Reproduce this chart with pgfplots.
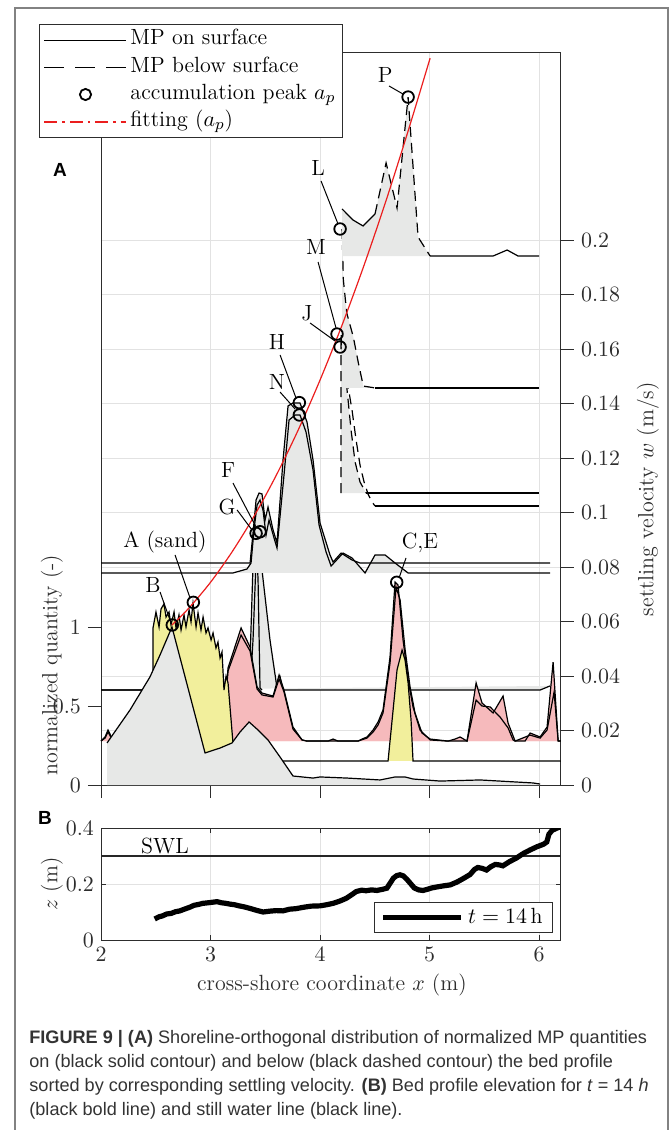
\documentclass[border=0pt]{standalone}
\usepackage{pgfplots}
\pgfplotsset{compat=1.18}
\usepackage{pgfplotstable}
\usepackage{fontspec}
\newfontfamily\capfont{Liberation Sans}

\definecolor{mpgray}{RGB}{231,232,231}
\definecolor{mpyellow}{RGB}{242,239,156}
\definecolor{mppink}{RGB}{246,186,188}
\definecolor{gridc}{RGB}{226,226,226}
\definecolor{axc}{RGB}{45,45,45}
\definecolor{framec}{RGB}{130,130,130}
\definecolor{fitred}{RGB}{235,30,30}

\pgfplotsset{
  mpl/.style={black, line width=0.6pt, forget plot},
  mpd/.style={black, line width=0.6pt, dash pattern=on 5pt off 3pt, forget plot},
  mpf/.style={draw=none, fill=#1, forget plot},
  panel/.style={scale only axis, width=230pt, anchor=south west,
    xmin=2, xmax=6.2,
    axis line style={axc, line width=0.5pt},
    tick style={axc, line width=0.5pt},
    tick label style={font=\fontsize{10.5}{12}\selectfont, color=axc},
    label style={font=\fontsize{11}{13}\selectfont, color=axc},
    grid style={gridc, line width=0.5pt}},
}

% panel A: x, stacked normalized quantity (baseline = settling velocity class)
\pgfplotstableread{
x y
2.000 0.601
3.352 0.601
3.388 1.392
3.416 1.595
3.434 1.297
3.452 0.614
3.470 0.601
}\curveG
\pgfplotstableread{
x y
2.000 0.601
3.361 0.601
3.388 0.918
3.416 1.424
3.452 1.601
3.470 1.361
3.543 0.918
3.607 0.614
3.635 0.684
3.662 0.601
6.009 0.601
6.100 0.627
}\curveF
\pgfplotstableread{
x y
2.000 1.405
3.361 1.405
3.388 1.595
3.416 1.804
3.443 1.848
3.470 1.842
3.498 1.677
3.525 1.759
3.571 1.614
3.607 1.532
3.662 2.057
3.708 2.399
3.753 2.418
3.817 2.418
3.881 2.297
3.936 2.057
4.000 1.658
4.091 1.456
4.119 1.411
4.192 1.468
4.292 1.424
4.365 1.405
6.100 1.405
}\curveH
\pgfplotstableread{
x y
2.000 1.342
3.205 1.342
3.333 1.367
3.370 1.405
3.397 1.614
3.425 1.772
3.452 1.804
3.479 1.741
3.507 1.582
3.534 1.677
3.580 1.563
3.607 1.500
3.671 1.962
3.717 2.310
3.772 2.342
3.817 2.342
3.872 2.234
3.936 1.994
3.991 1.646
4.055 1.475
4.101 1.386
4.210 1.468
4.292 1.437
4.411 1.342
4.502 1.456
4.594 1.456
4.685 1.405
4.804 1.342
6.100 1.342
}\curveN
\pgfplotstableread{
x y
2.000 0.278
2.037 0.304
2.064 0.348
2.100 0.297
2.174 0.278
3.105 0.278
3.160 0.741
3.279 0.994
3.361 0.873
3.425 0.620
3.470 0.582
3.571 0.563
3.626 0.696
3.671 0.601
3.753 0.367
3.836 0.285
3.881 0.278
4.073 0.278
4.119 0.291
4.164 0.278
4.347 0.278
4.384 0.291
4.429 0.304
4.484 0.348
4.530 0.399
4.575 0.475
4.639 0.810
4.685 1.285
4.712 1.266
4.758 0.918
4.804 0.665
4.849 0.494
4.913 0.348
5.005 0.285
5.169 0.278
5.233 0.291
5.279 0.304
5.342 0.278
5.425 0.646
5.479 0.519
5.580 0.456
5.671 0.563
5.717 0.392
5.781 0.278
5.872 0.278
5.918 0.329
6.009 0.304
6.073 0.367
6.128 0.778
6.174 0.278
6.200 0.278
}\curveC
\pgfplotstableread{
x y
2.000 0.278
2.037 0.297
2.064 0.335
2.100 0.291
2.174 0.278
3.105 0.278
3.160 0.722
3.279 0.949
3.361 0.848
3.425 0.608
3.470 0.570
3.571 0.557
3.626 0.671
3.671 0.589
3.753 0.354
3.836 0.285
3.881 0.278
4.347 0.278
4.429 0.297
4.484 0.335
4.530 0.380
4.575 0.456
4.639 0.772
4.694 1.253
4.731 1.171
4.776 0.861
4.822 0.620
4.867 0.456
4.931 0.329
5.005 0.291
5.169 0.278
5.342 0.278
5.425 0.538
5.479 0.500
5.553 0.494
5.644 0.430
5.717 0.361
5.763 0.285
5.781 0.278
5.918 0.316
6.009 0.297
6.073 0.348
6.137 0.589
6.174 0.278
6.200 0.278
}\curveE
\pgfplotstableread{
x y
2.475 0.152
2.475 0.994
2.502 1.095
2.530 1.000
2.548 1.114
2.575 1.146
2.594 1.063
2.621 1.095
2.639 1.013
2.667 1.095
2.685 0.994
2.712 1.076
2.731 0.981
2.758 1.076
2.776 1.000
2.804 1.108
2.822 1.032
2.840 1.152
2.868 1.000
2.886 1.089
2.913 0.981
2.932 1.063
2.959 0.962
2.977 0.994
3.005 0.918
3.023 0.962
3.050 0.867
3.068 0.905
3.087 0.804
3.105 0.842
3.123 0.601
3.142 0.690
3.160 0.646
3.205 0.266
3.233 0.152
4.621 0.152
4.658 0.411
4.703 0.728
4.749 0.854
4.776 0.791
4.804 0.646
4.831 0.411
4.849 0.152
6.200 0.152
}\curveA
\pgfplotstableread{
x y
2.055 0.266
2.265 0.475
2.447 0.684
2.539 0.823
2.648 1.000
2.950 0.203
3.087 0.234
3.196 0.266
3.269 0.335
3.352 0.399
3.434 0.348
3.525 0.285
3.635 0.177
3.753 0.057
3.936 0.044
4.000 0.051
4.247 0.044
4.548 0.032
4.685 0.051
4.776 0.051
4.849 0.038
5.096 0.025
5.461 0.032
5.945 0.013
6.009 0.006
}\curveB
\pgfplotstableread{
x y
4.201 2.513
4.201 3.519
4.213 3.196
4.244 2.987
4.304 2.835
4.350 2.671
4.395 2.525
4.502 2.513
}\curveL
\pgfplotstableread{
x y
4.192 1.848
4.192 2.854
4.228 2.627
4.256 2.437
4.283 2.247
4.320 2.044
4.365 1.918
4.420 1.848
}\curveM
\pgfplotstableread{
x y
4.201 2.772
4.246 2.563
4.292 2.373
4.329 2.184
4.365 2.025
4.402 1.918
4.438 1.842
4.475 1.791
4.502 1.766
}\curveJ
\pgfplotstableread{
x y
4.201 3.348
4.201 3.646
4.301 3.576
4.393 3.538
4.502 3.614
4.603 3.937
4.703 3.652
4.804 4.354
4.895 3.468
5.005 3.348
}\curveP
\pgfplotstableread{
x y
2.648 1.013
2.800 1.118
3.000 1.283
3.200 1.479
3.400 1.704
3.600 1.960
3.800 2.246
4.000 2.563
4.200 2.909
4.400 3.286
4.600 3.693
4.800 4.130
5.005 4.600
}\fitap
\pgfplotstableread{
x y
4.804 4.354
4.183 3.519
4.155 2.854
4.183 2.772
3.811 2.420
3.811 2.342
3.452 1.603
3.416 1.593
4.700 1.283
2.843 1.156
2.651 1.013
}\peaks

% panel B: bed profile at t = 14 h
\pgfplotstableread{
x z
2.49 0.075
2.53 0.083
2.56 0.086
2.60 0.093
2.64 0.095
2.68 0.101
2.72 0.104
2.76 0.110
2.81 0.117
2.85 0.124
2.89 0.127
2.93 0.131
2.98 0.133
3.02 0.135
3.06 0.137
3.10 0.133
3.14 0.131
3.18 0.128
3.22 0.126
3.26 0.122
3.30 0.119
3.36 0.113
3.42 0.106
3.48 0.100
3.54 0.103
3.60 0.105
3.66 0.104
3.72 0.110
3.78 0.112
3.85 0.117
3.92 0.121
4.00 0.122
4.06 0.126
4.12 0.131
4.18 0.139
4.24 0.149
4.29 0.162
4.33 0.173
4.38 0.178
4.42 0.176
4.47 0.179
4.52 0.177
4.57 0.181
4.61 0.185
4.64 0.203
4.67 0.221
4.70 0.230
4.73 0.233
4.76 0.229
4.79 0.218
4.83 0.200
4.86 0.186
4.90 0.179
4.94 0.177
4.98 0.181
5.02 0.186
5.06 0.189
5.12 0.193
5.19 0.197
5.25 0.207
5.31 0.220
5.37 0.234
5.41 0.252
5.44 0.259
5.48 0.256
5.52 0.250
5.56 0.262
5.60 0.270
5.64 0.268
5.67 0.265
5.73 0.280
5.79 0.292
5.86 0.310
5.92 0.322
5.98 0.333
6.04 0.342
6.07 0.350
6.09 0.378
6.12 0.392
6.16 0.399
6.19 0.404
}\profile

\begin{document}
\begin{tikzpicture}
\path[use as bounding box] (0pt,0pt) rectangle (335pt,-565pt);
\draw[framec, line width=0.7pt] (7.5pt,-565pt) -- (7.5pt,-4pt) -- (334pt,-4pt) -- (334pt,-565pt);

% ---- panel A, right axis (settling velocity)
\begin{axis}[panel, at={(50.5pt,-392.5pt)}, height=366.5pt,
  ymin=0, ymax=0.26899,
  axis x line=none, axis y line*=right,
  ytick={0,0.02,0.04,0.06,0.08,0.1,0.12,0.14,0.16,0.18,0.2},
  yticklabel style={/pgf/number format/fixed, /pgf/number format/precision=2},
  ymajorgrids, tick align=outside, major tick length=6.5pt,
  ylabel={settling velocity $w$ (m/s)},
  ylabel style={at={(axis description cs:1.189,0.39)}, anchor=center}]
\addplot[draw=none, forget plot] coordinates {(2,0) (6.2,0.2)};
\end{axis}

% ---- panel A, main axis (normalized quantity)
\begin{axis}[panel, at={(50.5pt,-392.5pt)}, height=366.5pt,
  ymin=0, ymax=4.6392,
  xtick={2,3,4,5,6}, xticklabels={}, xtick pos=left,
  ytick={0,0.5,1}, ytick pos=left,
  xmajorgrids, tick align=outside, major tick length=6.5pt,
  clip=false,
  ylabel={normalized quantity (-)},
  ylabel style={at={(axis description cs:-0.1065,0.1637)}, anchor=center},
  legend cell align=left,
  legend style={at={(-0.1348,1.0382)}, anchor=north west,
    draw=axc, line width=0.5pt, fill=white,
    font=\fontsize{11}{13}\selectfont,
    inner xsep=2pt, inner ysep=1pt, row sep=0pt,
    nodes={inner sep=1.5pt, text height=7.7pt, text depth=2.9pt}}]

\addlegendimage{legend image code/.code={\draw[black,line width=0.6pt] (0pt,0pt) -- (41pt,0pt);}}
\addlegendentry{MP on surface}
\addlegendimage{legend image code/.code={\draw[black,line width=0.6pt,dash pattern=on 10pt off 5.5pt] (0pt,0pt) -- (41pt,0pt);}}
\addlegendentry{MP below surface}
\addlegendimage{legend image code/.code={\draw[black,line width=0.9pt] (20.5pt,0pt) circle (2.8pt);}}
\addlegendentry{accumulation peak $a_p$}
\addlegendimage{legend image code/.code={\draw[fitred,line width=1pt,dash pattern=on 6.5pt off 2.5pt on 1.2pt off 2.5pt] (0pt,0pt) -- (41pt,0pt);}}
\addlegendentry{fitting ($a_p$)}

% F, G
\addplot[mpf=mpgray] table {\curveG} -- cycle;
\addplot[mpf=mpgray] table {\curveF} -- cycle;
\addplot[mpl] table {\curveG};
\addplot[mpl] table {\curveF};
% H, N
\addplot[mpf=mpgray] table {\curveH} -- cycle;
\addplot[mpf=mpgray] table {\curveN} -- cycle;
\addplot[mpl] table {\curveH};
\addplot[mpl] table {\curveN};
% C, E
\addplot[mpf=mppink] table {\curveC} -- cycle;
\addplot[mpf=mppink] table {\curveE} -- cycle;
\addplot[mpl] table {\curveC};
\addplot[mpl] table {\curveE};
% A (sand)
\addplot[mpf=mpyellow] table {\curveA} -- cycle;
\addplot[mpl] table {\curveA};
% B
\addplot[mpf=mpgray] coordinates {(2.055,0) (2.055,0.266) (2.265,0.475) (2.447,0.684) (2.539,0.823) (2.648,1.000) (2.950,0.203) (3.087,0.234) (3.196,0.266) (3.269,0.335) (3.352,0.399) (3.434,0.348) (3.525,0.285) (3.635,0.177) (3.753,0.057) (3.936,0.044) (4.000,0.051) (4.247,0.044) (4.548,0.032) (4.685,0.051) (4.776,0.051) (4.849,0.038) (5.096,0.025) (5.461,0.032) (5.945,0.013) (6.009,0)} -- cycle;
\addplot[mpl] table {\curveB};
% M, J, L
\addplot[mpf=mpgray] table {\curveM} -- cycle;
\addplot[mpd] table {\curveM};
\addplot[mpl] coordinates {(4.420,1.848) (6.0,1.848)};
\addplot[mpd] table {\curveJ};
\addplot[mpl] coordinates {(4.502,1.766) (6.0,1.766)};
\addplot[mpf=mpgray] table {\curveL} -- cycle;
\addplot[mpd] coordinates {(4.201,3.519) (4.213,3.196) (4.244,2.987) (4.304,2.835) (4.350,2.671) (4.395,2.525) (4.502,2.513)};
\addplot[mpl] coordinates {(4.502,2.513) (6.0,2.513)};
% P
\addplot[mpf=mpgray] table {\curveP} -- cycle;
\addplot[mpl] coordinates {(4.201,3.646) (4.301,3.576) (4.393,3.538) (4.502,3.614)};
\addplot[mpd] coordinates {(4.502,3.614) (4.603,3.937) (4.703,3.652) (4.804,4.354) (4.895,3.468) (5.005,3.348)};
\addplot[mpl] coordinates {(5.005,3.348) (5.580,3.348) (5.708,3.386) (5.808,3.348) (6.0,3.348)};

% fitting and peaks
\addplot[fitred, line width=0.6pt, smooth, forget plot] table {\fitap};
\addplot[only marks, mark=o, mark size=2.9pt, black, line width=0.9pt, forget plot] table {\peaks};

% labels
\begin{scope}[font=\fontsize{11}{13}\selectfont, black]
\node at (axis cs:4.594,4.494) {P};
\draw[line width=0.5pt] (axis cs:4.630,4.424) -- (axis cs:4.758,4.373);
\node at (axis cs:3.982,3.905) {L};
\draw[line width=0.5pt] (axis cs:4.009,3.823) -- (axis cs:4.164,3.551);
\node at (axis cs:3.963,3.405) {M};
\draw[line width=0.5pt] (axis cs:3.982,3.310) -- (axis cs:4.146,2.892);
\node at (axis cs:3.881,2.987) {J};
\draw[line width=0.5pt] (axis cs:3.909,2.924) -- (axis cs:4.137,2.810);
\node at (axis cs:3.607,2.804) {H};
\draw[line width=0.5pt] (axis cs:3.635,2.722) -- (axis cs:3.781,2.449);
\node at (axis cs:3.607,2.551) {N};
\draw[line width=0.5pt] (axis cs:3.635,2.487) -- (axis cs:3.772,2.380);
\node at (axis cs:3.160,1.994) {F};
\draw[line width=0.5pt] (axis cs:3.205,1.911) -- (axis cs:3.416,1.633);
\node at (axis cs:3.151,1.759) {G};
\draw[line width=0.5pt] (axis cs:3.242,1.741) -- (axis cs:3.379,1.614);
\node at (axis cs:2.584,1.538) {A (sand)};
\draw[line width=0.5pt] (axis cs:2.676,1.456) -- (axis cs:2.813,1.184);
\node at (axis cs:2.475,1.266) {B};
\draw[line width=0.5pt] (axis cs:2.539,1.222) -- (axis cs:2.630,1.044);
\node at (axis cs:4.913,1.532) {C,E};
\draw[line width=0.5pt] (axis cs:4.785,1.437) -- (axis cs:4.721,1.310);
\end{scope}
\end{axis}

% ---- panel B
\begin{axis}[panel, at={(50.5pt,-470pt)}, height=56pt,
  ymin=0, ymax=0.4,
  xtick={2,3,4,5,6}, ytick={0,0.2,0.4},
  grid=major, tick align=inside, major tick length=2.5pt,
  xlabel={cross-shore coordinate $x$ (m)},
  ylabel={$z$ (m)},
  xlabel style={at={(axis description cs:0.502,-0.40)}, anchor=center},
  ylabel style={at={(axis description cs:-0.1065,0.5)}, anchor=center},
  legend style={at={(0.983,0.0625)}, anchor=south east,
    draw=axc, line width=0.5pt, fill=white,
    font=\fontsize{11}{13}\selectfont, inner xsep=3pt, inner ysep=1pt}]
\addplot[black!85, line width=0.7pt, forget plot] coordinates {(2,0.3) (6.2,0.3)};
\addplot[black, line width=2.6pt, legend image code/.code={\draw[black,line width=2.6pt] (0pt,0pt) -- (39pt,0pt);}] table[x=x, y=z] {\profile};
\addlegendentry{$t = 14\,\mathrm{h}$}
\node[anchor=south, inner sep=1pt, font=\fontsize{11}{13}\selectfont] at (axis cs:2.584,0.3) {SWL};
\end{axis}

% panel letters and caption
\node[font=\capfont\bfseries\fontsize{9.5}{11}\selectfont] at (30pt,-85pt) {A};
\node[font=\capfont\bfseries\fontsize{9.5}{11}\selectfont] at (22.5pt,-409pt) {B};
\begin{scope}[every node/.style={anchor=base west, inner sep=0pt, font=\capfont\fontsize{9.05}{11}\selectfont, text=black!80}]
\node at (14.5pt,-521.5pt) {\textbf{FIGURE 9 | (A)} Shoreline-orthogonal distribution of normalized MP quantities};
\node at (14.5pt,-533.5pt) {on (black solid contour) and below (black dashed contour) the bed profile};
\node at (14.5pt,-545.5pt) {sorted by corresponding settling velocity. \textbf{(B)} Bed profile elevation for \textit{t} = 14 \textit{h}};
\node at (14.5pt,-557.5pt) {(black bold line) and still water line (black line).};
\end{scope}
\end{tikzpicture}
\end{document}
